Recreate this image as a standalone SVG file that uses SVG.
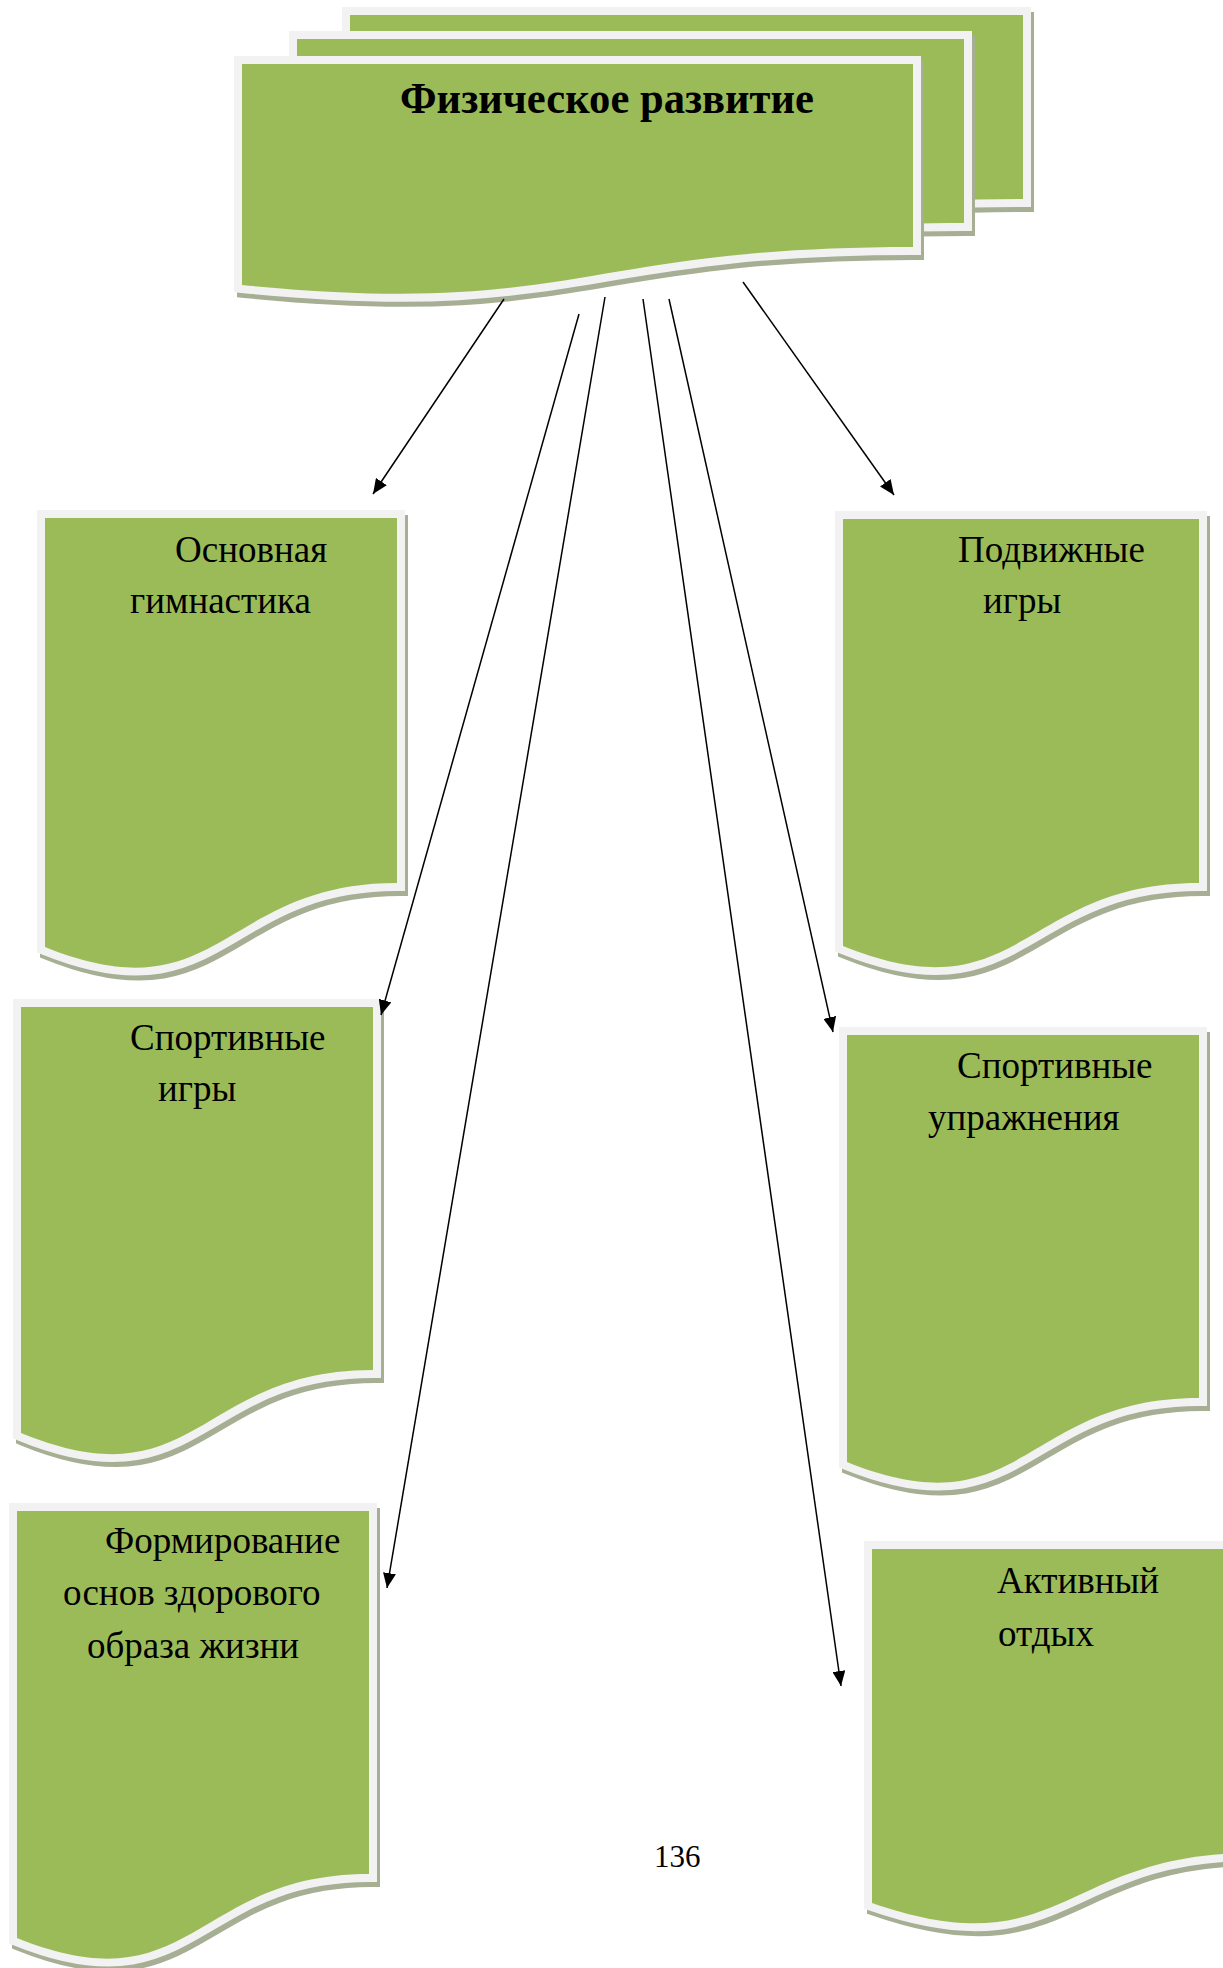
<svg xmlns="http://www.w3.org/2000/svg" width="1223" height="1968" viewBox="0 0 1223 1968">
<style>
.sh{fill:#A6AE94;stroke:#A6AE94;stroke-width:16;stroke-linejoin:miter}
.doc{fill:#9BBB59;stroke:#F2F2F2;stroke-width:16;stroke-linejoin:miter;paint-order:stroke}
.t{font-family:"Liberation Serif","Times New Roman",serif;font-size:37px;fill:#000}
.ttl{font-family:"Liberation Serif","Times New Roman",serif;font-size:44px;font-weight:bold;fill:#000}
.pg{font-family:"Liberation Serif","Times New Roman",serif;font-size:31px;fill:#000}
.c{stroke:#000;stroke-width:1.5;fill:none;marker-end:url(#ah)}
</style>
<defs>
<marker id="ah" viewBox="0 0 15 13" refX="15" refY="6.5" markerWidth="15" markerHeight="13" markerUnits="userSpaceOnUse" orient="auto">
<path d="M0,0 L15,6.5 L0,13 Z" fill="#000"/>
</marker>
<path id="p1" d="M45,518 H397 V883 C221,883 221,1018 45,947 Z"/>
<path id="p2" d="M843,519 H1199 V883 C1021,883 1021,1018 843,946 Z"/>
<path id="p3" d="M21,1007 H373 V1370 C197,1370 197,1505 21,1433 Z"/>
<path id="p4" d="M847,1035 H1199 V1398 C1023,1398 1023,1533 847,1462 Z"/>
<path id="p5" d="M17,1511 H369 V1874 C193,1874 193,2009 17,1938 Z"/>
<path id="p6" d="M872,1549 H1252 V1853 C1062,1853 1062,1969 872,1903 Z"/>
<path id="s1" d="M350,15 H1023 V199 C686,199 686,270 350,238 Z"/>
<path id="s2" d="M297,39 H964 V223 C630,223 630,295 297,262 Z"/>
<path id="s3" d="M242,64 H913 V247 C577,247 577,318 242,285 Z"/>
</defs>
<rect width="1223" height="1968" fill="#fff"/>

<g id="root">
<use href="#s1" class="sh" transform="translate(3,5)"/>
<use href="#s1" class="doc"/>
<use href="#s2" class="sh" transform="translate(3,5)"/>
<use href="#s2" class="doc"/>
<use href="#s3" class="sh" transform="translate(3,5)"/>
<use href="#s3" class="doc"/>
<text class="ttl" x="400" y="113" textLength="414" lengthAdjust="spacingAndGlyphs">Физическое развитие</text>
</g>

<g id="n1">
<use href="#p1" class="sh" transform="translate(3,5)"/>
<use href="#p1" class="doc"/>
<text class="t" x="175" y="562">Основная</text>
<text class="t" x="130" y="613">гимнастика</text>
</g>

<g id="n2">
<use href="#p2" class="sh" transform="translate(3,5)"/>
<use href="#p2" class="doc"/>
<text class="t" x="958" y="562">Подвижные</text>
<text class="t" x="983" y="613">игры</text>
</g>

<g id="n3">
<use href="#p3" class="sh" transform="translate(3,5)"/>
<use href="#p3" class="doc"/>
<text class="t" x="130" y="1050">Спортивные</text>
<text class="t" x="158" y="1101">игры</text>
</g>

<g id="n4">
<use href="#p4" class="sh" transform="translate(3,5)"/>
<use href="#p4" class="doc"/>
<text class="t" x="957" y="1078">Спортивные</text>
<text class="t" x="928" y="1130">упражнения</text>
</g>

<g id="n5">
<use href="#p5" class="sh" transform="translate(3,5)"/>
<use href="#p5" class="doc"/>
<text class="t" x="105" y="1553">Формирование</text>
<text class="t" x="63" y="1605">основ здорового</text>
<text class="t" x="87" y="1658">образа жизни</text>
</g>

<g id="n6">
<use href="#p6" class="sh" transform="translate(3,5)"/>
<use href="#p6" class="doc"/>
<text class="t" x="997" y="1593">Активный</text>
<text class="t" x="998" y="1646">отдых</text>
</g>

<g id="connectors">
<line class="c" x1="504" y1="299" x2="373" y2="494"/>
<line class="c" x1="579" y1="314" x2="381" y2="1015"/>
<line class="c" x1="605" y1="297" x2="387" y2="1588"/>
<line class="c" x1="643" y1="299" x2="841" y2="1686"/>
<line class="c" x1="669" y1="299" x2="833" y2="1032"/>
<line class="c" x1="743" y1="282" x2="894" y2="495"/>
</g>

<text class="pg" x="654" y="1867">136</text>
</svg>
